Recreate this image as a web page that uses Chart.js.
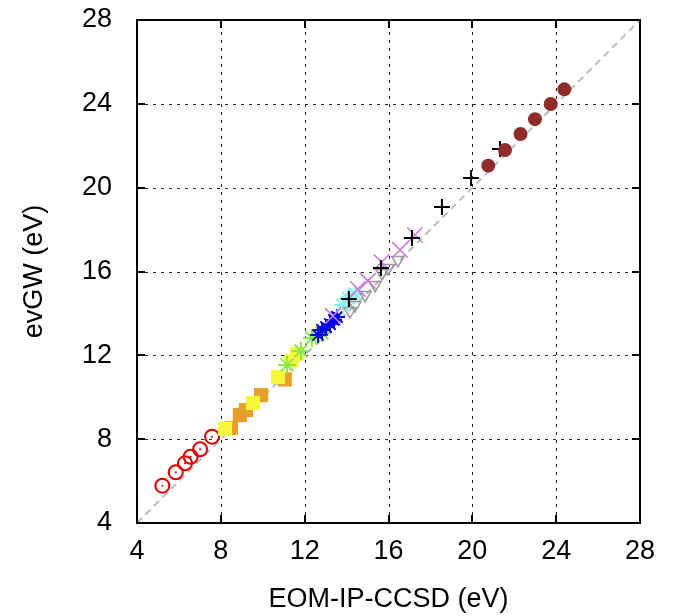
<!DOCTYPE html>
<html>
<head>
<meta charset="utf-8">
<script src="https://cdn.jsdelivr.net/npm/chart.js@4/dist/chart.umd.min.js"></script>
<style>
  html, body { margin: 0; padding: 0; background: #fff; }
  #c { display: block; }
</style>
</head>
<body>
<canvas id="c" width="673" height="616"></canvas>
<script>
// ---- data ----
const tickValues = [4, 8, 12, 16, 20, 24, 28];
const diagX = [4, 28];
const diagY = [4, 28];

const redX = [5.21, 5.85, 6.29, 6.56, 7.01, 7.58];
const redY = [5.78, 6.42, 6.85, 7.16, 7.52, 8.12];

const orangeX = [8.48, 8.91, 9.20, 9.92, 11.05];
const orangeY = [8.53, 9.15, 9.39, 10.10, 10.85];

const yellowX = [8.20, 9.53, 10.73, 11.35, 11.63];
const yellowY = [8.50, 9.73, 10.97, 11.73, 12.06];

const greenX = [11.16, 11.82, 12.35, 12.83];
const greenY = [11.54, 12.21, 12.83, 13.06];

const blueX = [12.64, 12.83, 13.02, 13.21, 13.40, 13.54];
const blueY = [12.97, 13.21, 13.35, 13.49, 13.69, 13.83];

const cyanX = [13.83, 14.07, 14.40];
const cyanY = [14.40, 14.73, 14.93];

const grayX = [14.16, 14.40, 14.88, 15.36, 15.69, 15.98, 16.45];
const grayY = [14.11, 14.40, 14.88, 15.36, 15.93, 16.17, 16.55];

const violetX = [13.35, 14.54, 15.02, 15.67, 16.55, 17.26];
const violetY = [13.88, 15.16, 15.55, 16.44, 17.03, 17.74];

const blackX = [14.11, 15.64, 17.12, 18.55, 19.94, 21.32];
const blackY = [14.69, 16.17, 17.60, 19.08, 20.46, 21.84];

const brownX = [20.76, 21.56, 22.30, 22.99, 23.74, 24.39];
const brownY = [21.05, 21.80, 22.56, 23.27, 23.99, 24.69];

const xTitle = 'EOM-IP-CCSD (eV)';
const yTitle = 'evGW (eV)';

// ---- helpers ----
const pts = (xs, ys) => xs.map((v, i) => ({ x: v, y: ys[i] }));
const FONT = '"Liberation Sans", Arial, Helvetica, sans-serif';

function ds(label, xs, ys, style, order) {
  return Object.assign({
    type: 'scatter',
    label,
    data: pts(xs, ys),
    order,
    showLine: false
  }, style);
}

const framePlugin = {
  id: 'frame',
  beforeDatasetsDraw(chart) {
    const { ctx, chartArea: { left, right, top, bottom }, scales: { x, y } } = chart;
    ctx.save();
    ctx.strokeStyle = 'rgba(0,0,0,0.85)';
    ctx.lineWidth = 1;
    ctx.setLineDash([3, 5]);
    tickValues.forEach(v => {
      if (v > x.min && v < x.max) {
        const px = Math.round(x.getPixelForValue(v)) + 0.5;
        ctx.beginPath(); ctx.moveTo(px, bottom); ctx.lineTo(px, top); ctx.stroke();
      }
      if (v > y.min && v < y.max) {
        const py = Math.round(y.getPixelForValue(v)) + 0.5;
        ctx.beginPath(); ctx.moveTo(left, py); ctx.lineTo(right, py); ctx.stroke();
      }
    });
    ctx.restore();
  },
  afterDraw(chart) {
    const { ctx, chartArea: { left, right, top, bottom }, scales: { x, y } } = chart;
    ctx.save();
    ctx.strokeStyle = '#000';
    ctx.setLineDash([]);
    ctx.lineWidth = 2;
    const tl = 8;
    tickValues.forEach(v => {
      const px = Math.round(x.getPixelForValue(v));
      ctx.beginPath();
      ctx.moveTo(px, bottom); ctx.lineTo(px, bottom - tl);
      ctx.moveTo(px, top); ctx.lineTo(px, top + tl);
      ctx.stroke();
      const py = Math.round(y.getPixelForValue(v));
      ctx.beginPath();
      ctx.moveTo(left, py); ctx.lineTo(left + tl, py);
      ctx.moveTo(right, py); ctx.lineTo(right - tl, py);
      ctx.stroke();
    });
    ctx.lineWidth = 2;
    ctx.strokeRect(left, top, right - left, bottom - top);
    ctx.restore();
  }
};

const axisCommon = {
  type: 'linear',
  min: 4,
  max: 28,
  grid: { display: false, drawTicks: false },
  border: { display: false },
  afterBuildTicks: s => { s.ticks = tickValues.map(v => ({ value: v })); }
};

new Chart(document.getElementById('c'), {
  type: 'scatter',
  data: {
    datasets: [
      {
        type: 'line', label: 'diag', data: pts(diagX, diagY),
        borderColor: '#bdbdbd', borderWidth: 2, borderDash: [7, 5],
        pointRadius: 0, fill: false, order: 50
      },
      ds('red', redX, redY, { pointStyle: 'circle', pointRadius: 7, backgroundColor: 'rgba(0,0,0,0)', borderColor: '#e00000', pointBorderWidth: 2 }, 12),
      ds('redDot', redX, redY, { pointStyle: 'circle', pointRadius: 1, backgroundColor: '#e00000', borderColor: '#e00000', pointBorderWidth: 0 }, 11),
      ds('orange', orangeX, orangeY, { pointStyle: 'rect', pointRadius: 10, backgroundColor: '#e69f2a', borderColor: '#e69f2a', pointBorderWidth: 0 }, 10),
      ds('yellow', yellowX, yellowY, { pointStyle: 'rect', pointRadius: 10, backgroundColor: '#f8f83a', borderColor: '#f8f83a', pointBorderWidth: 0 }, 9),
      ds('green', greenX, greenY, { pointStyle: 'star', pointRadius: 9, backgroundColor: '#8ae84a', borderColor: '#8ae84a', pointBorderWidth: 2 }, 8),
      ds('blue', blueX, blueY, { pointStyle: 'star', pointRadius: 8, backgroundColor: '#0000ee', borderColor: '#0000ee', pointBorderWidth: 2 }, 7),
      ds('cyan', cyanX, cyanY, { pointStyle: 'star', pointRadius: 9, backgroundColor: '#88f4f4', borderColor: '#88f4f4', pointBorderWidth: 2 }, 6),
      ds('gray', grayX, grayY, { pointStyle: 'triangle', rotation: 180, pointRadius: 7, backgroundColor: 'rgba(0,0,0,0)', borderColor: '#9a9a9a', pointBorderWidth: 1.5 }, 5),
      ds('violet', violetX, violetY, { pointStyle: 'crossRot', pointRadius: 11, backgroundColor: '#c878dc', borderColor: '#c878dc', pointBorderWidth: 1.5 }, 4),
      ds('black', blackX, blackY, { pointStyle: 'cross', pointRadius: 8, backgroundColor: '#000', borderColor: '#000', pointBorderWidth: 2 }, 3),
      ds('brown', brownX, brownY, { pointStyle: 'circle', pointRadius: 7, backgroundColor: '#8e2c2c', borderColor: '#8e2c2c', pointBorderWidth: 0 }, 2)
    ]
  },
  options: {
    responsive: false,
    devicePixelRatio: 1,
    animation: false,
    layout: { padding: { left: 0, right: 33, top: 20, bottom: 0 } },
    plugins: { legend: { display: false }, tooltip: { enabled: false } },
    elements: { line: { tension: 0 } },
    scales: {
      x: Object.assign({}, axisCommon, {
        position: 'bottom',
        ticks: { color: '#000', font: { family: FONT, size: 27 }, padding: 12, maxRotation: 0, autoSkip: false },
        title: { display: true, text: xTitle, color: '#000', font: { family: FONT, size: 27 }, padding: { top: 0, bottom: 0 } },
        afterFit: s => { s.height = 93; s.paddingLeft = 0; s.paddingRight = 0; }
      }),
      y: Object.assign({}, axisCommon, {
        position: 'left',
        ticks: { color: '#000', font: { family: FONT, size: 27 }, padding: 25, autoSkip: false },
        title: { display: true, text: yTitle, color: '#000', font: { family: FONT, size: 27 }, padding: { top: 18, bottom: 0 } },
        afterFit: s => { s.width = 137; s.paddingTop = 0; s.paddingBottom = 0; }
      })
    }
  },
  plugins: [framePlugin]
});
</script>
</body>
</html>
